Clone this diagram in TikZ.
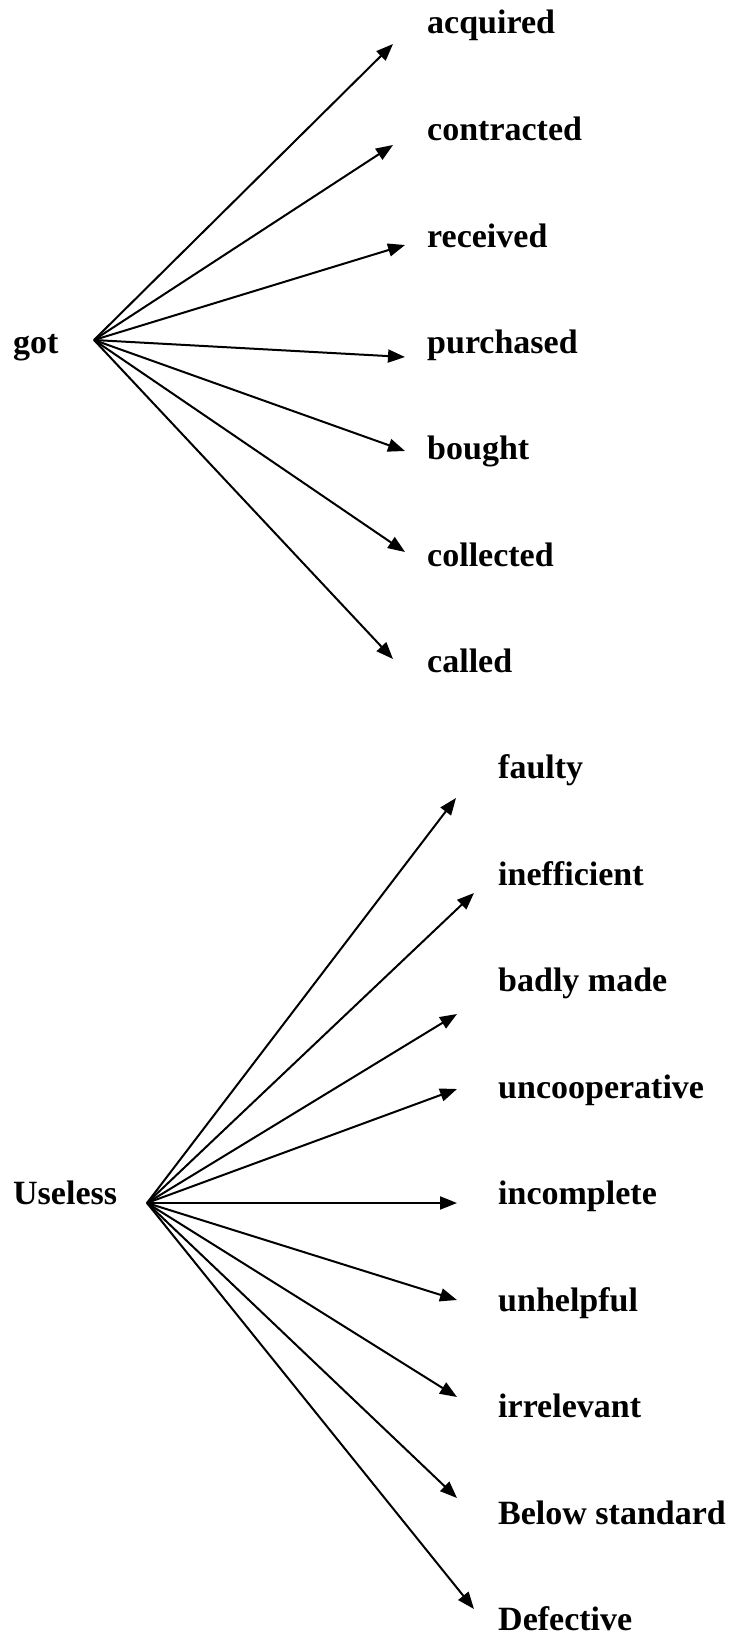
\documentclass[tikz,border=0pt]{standalone}
\usepackage{fontspec}
\setmainfont{Liberation Serif}
\usetikzlibrary{arrows.meta}
\begin{document}
\begin{tikzpicture}[x=1pt,y=-1pt,
  word/.style={anchor=base west,inner sep=0pt,font=\fontsize{34}{40}\selectfont\bfseries},
  link/.style={line width=2pt,-{Triangle[length=17pt,width=13pt]}}]
\useasboundingbox (0,0) rectangle (735,1635);

% ---- first fan: got ----
\node[word] (got) at (13,353) {got};
\coordinate (g0) at (94,340);
\node[word] (w1) at (427,34) {acquired};
\node[word] (w2) at (427,140) {contracted};
\node[word] (w3) at (427,247) {received};
\node[word] (w4) at (427,353) {purchased};
\node[word] (w5) at (427,459) {bought};
\node[word] (w6) at (427,566) {collected};
\node[word] (w7) at (427,672) {called};
\coordinate (t1) at (393,44);
\coordinate (t2) at (393,145);
\coordinate (t3) at (405,245);
\coordinate (t4) at (405,357);
\coordinate (t5) at (405,451);
\coordinate (t6) at (405,552);
\coordinate (t7) at (393,659);
\foreach \i in {1,...,7} \draw[link] (g0) -- (t\i);

% ---- second fan: Useless ----
\node[word] (use) at (13,1204) {Useless};
\coordinate (u0) at (147,1203);
\node[word] (v1) at (498,778) {faulty};
\node[word] (v2) at (498,885) {inefficient};
\node[word] (v3) at (498,991) {badly made};
\node[word] (v4) at (498,1098) {uncooperative};
\node[word] (v5) at (498,1204) {incomplete};
\node[word] (v6) at (498,1311) {unhelpful};
\node[word] (v7) at (498,1417) {irrelevant};
\node[word] (v8) at (498,1524) {Below standard};
\node[word] (v9) at (498,1630) {Defective};
\coordinate (s1) at (456,798);
\coordinate (s2) at (474,893);
\coordinate (s3) at (457,1014);
\coordinate (s4) at (457,1089);
\coordinate (s5) at (457,1203);
\coordinate (s6) at (457,1300);
\coordinate (s7) at (457,1397);
\coordinate (s8) at (457,1498);
\coordinate (s9) at (474,1609);
\foreach \i in {1,...,9} \draw[link] (u0) -- (s\i);
\end{tikzpicture}
\end{document}
